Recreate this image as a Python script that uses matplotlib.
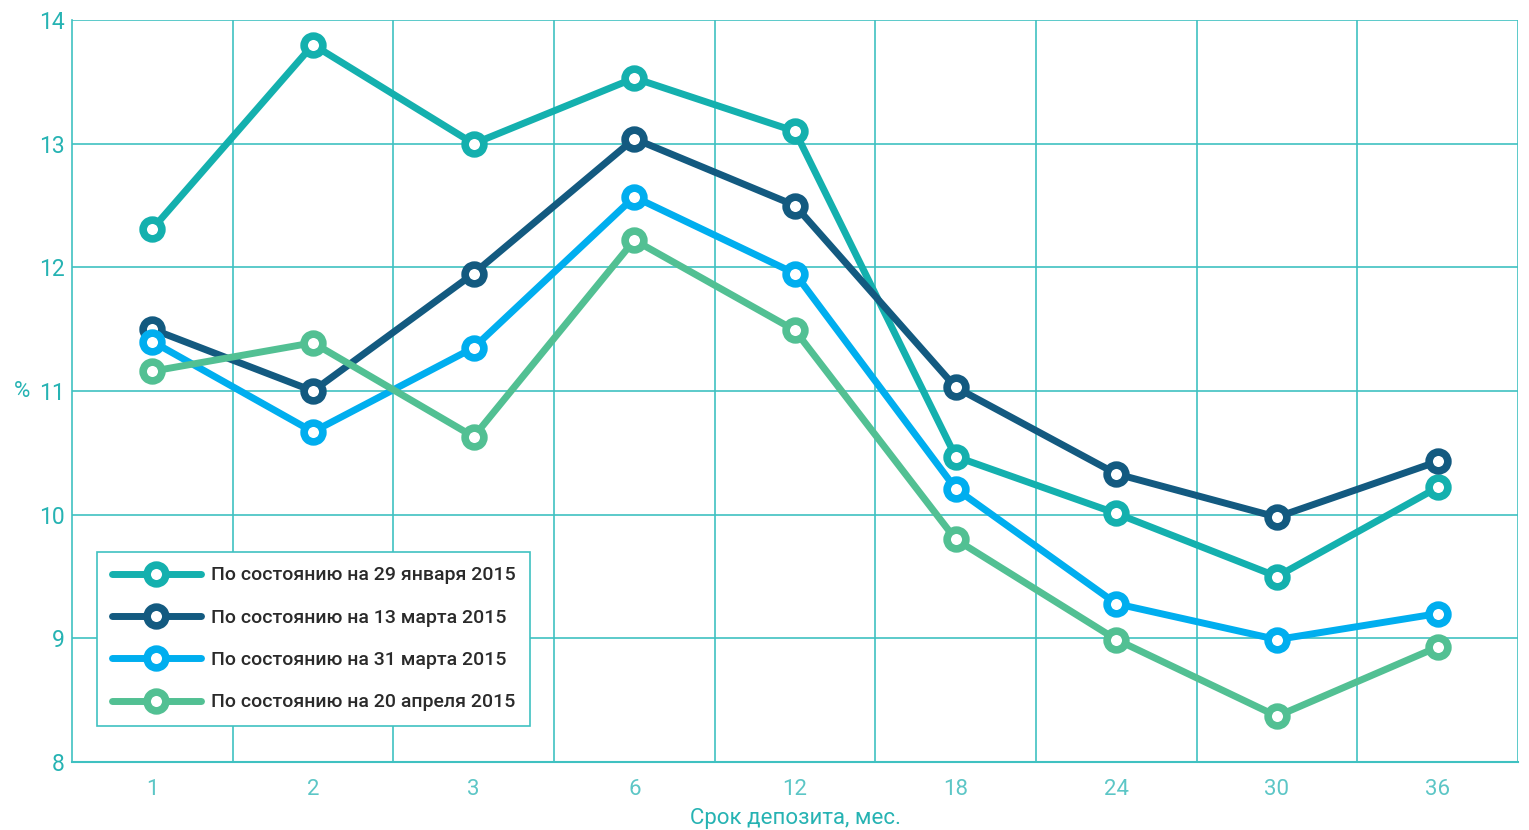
import numpy as np
import matplotlib.pyplot as plt

plt.rcParams['font.family'] = ['Roboto', 'DejaVu Sans']

terms = ['1', '2', '3', '6', '12', '18', '24', '30', '36']
jan29 = [12.31, 13.80, 13.00, 13.53, 13.10, 10.47, 10.01, 9.50, 10.22]
mar13 = [11.50, 11.00, 11.95, 13.04, 12.50, 11.03, 10.33, 9.98, 10.43]
mar31 = [11.40, 10.67, 11.35, 12.57, 11.95, 10.21, 9.28, 8.99, 9.20]
apr20 = [11.16, 11.39, 10.63, 12.22, 11.49, 9.80, 8.99, 8.37, 8.93]
labels = ['По состоянию на 29 января 2015', 'По состоянию на 13 марта 2015',
          'По состоянию на 31 марта 2015', 'По состоянию на 20 апреля 2015']
colors = ['#14b0ae', '#135a80', '#00aeef', '#52c093']

grid_c = '#3fc1c1'
tick_c = '#26b3b3'

fig = plt.figure(figsize=(15.29, 8.3), dpi=100)
ax = fig.add_axes([72 / 1529, 68 / 830, 1446 / 1529, 742 / 830])

x = np.arange(len(terms))
for ys, c, lab in zip([jan29, mar13, mar31, apr20], colors, labels):
    ax.plot(x, ys, color=c, lw=5, marker='o', ms=13.5, mew=5.5,
            mfc='white', mec=c, label=lab, zorder=3, solid_capstyle='round')

ax.set_xlim(-0.5, len(terms) - 0.5)
ax.set_ylim(8, 14)
ax.set_xticks(x)
ax.set_xticklabels(terms)
ax.set_xticks(np.arange(len(terms)) + 0.5, minor=True)
ax.set_yticks(np.arange(8, 15))
ax.grid(True, which='minor', axis='x', color=grid_c, lw=1.2)
ax.grid(True, which='major', axis='y', color=grid_c, lw=1.2)
ax.tick_params(which='both', length=0)
ax.tick_params(axis='y', colors=tick_c, labelsize=16.5, pad=5)
ax.tick_params(axis='x', colors='#5cc6c6', labelsize=16, pad=12)
for s in ['top', 'right']:
    ax.spines[s].set_visible(False)
ax.spines['left'].set_color(grid_c)
ax.spines['bottom'].set_color(grid_c)
ax.spines['left'].set_linewidth(1.2)
ax.spines['bottom'].set_linewidth(1.5)

ax.set_xlabel('Срок депозита, мес.', color=tick_c, fontsize=16, labelpad=6)
ax.text(-0.0345, 0.5, '%', transform=ax.transAxes, color=tick_c, fontsize=16,
        ha='center', va='center')

leg = ax.legend(loc='lower left', bbox_to_anchor=(25 / 1446, 36 / 742),
                prop={'size': 14, 'weight': 'medium'}, frameon=True,
                fancybox=False, handlelength=4.6, labelspacing=1.25,
                borderpad=0.75, handletextpad=0.5, borderaxespad=0)
leg.get_frame().set_edgecolor(grid_c)
leg.get_frame().set_linewidth(1.2)
leg.get_frame().set_alpha(1)
for t in leg.get_texts():
    t.set_color('#2a2a2a')

fig.savefig('out.png', dpi=100)
